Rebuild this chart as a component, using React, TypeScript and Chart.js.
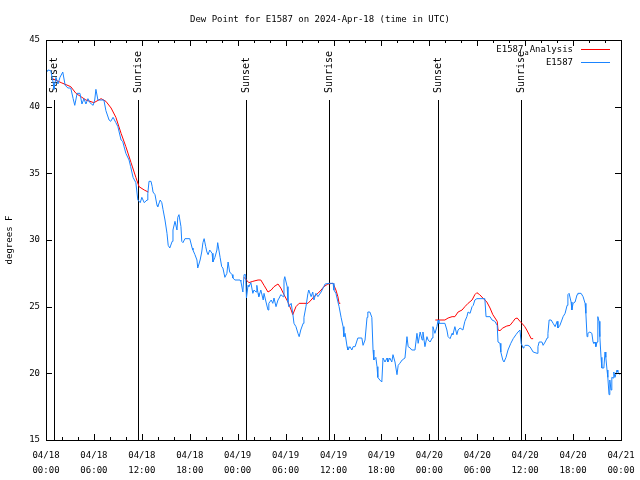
import React, { useEffect, useRef } from 'react';
import { Chart, registerables } from 'chart.js';

Chart.register(...registerables);

const TITLE = 'Dew Point for E1587 on 2024-Apr-18 (time in UTC)';
const Y_TITLE = 'degrees F';
const LEGEND_ANALYSIS = ['E1587', 'a', 'Analysis'];
const LEGEND_OBS = 'E1587';

const X_TICK_DATES = ['04/18', '04/18', '04/18', '04/18', '04/19', '04/19', '04/19', '04/19', '04/20', '04/20', '04/20', '04/20', '04/21'];
const X_TICK_TIMES = ['00:00', '06:00', '12:00', '18:00', '00:00', '06:00', '12:00', '18:00', '00:00', '06:00', '12:00', '18:00', '00:00'];
const X_MAX_HOURS = 72;
const X_STEP_HOURS = 6;
const Y_MIN = 15;
const Y_MAX = 45;
const Y_STEP = 5;

const SUN_EVENT_HOURS = [1.0, 11.5, 25.0, 35.4, 49.1, 59.5];
const SUN_EVENT_LABELS = ['Sunset', 'Sunrise', 'Sunset', 'Sunrise', 'Sunset', 'Sunrise'];

// observed series [hours since 04/18 00:00, degF]
const OBS_DAY1 = [
  [0, 42.5], [0.25, 42.75], [0.6, 42.7], [0.9, 41.8], [1.0, 41.3], [1.25, 42.2], [1.5, 41.7], [1.75, 42.2],
  [2.1, 42.6], [2.4, 41.6], [2.75, 41.4], [3.1, 41.4], [3.4, 40.6], [3.6, 40.1], [3.9, 41.0], [4.25, 41.0],
  [4.5, 40.2], [4.75, 40.6], [5.0, 40.2], [5.25, 40.6], [5.5, 40.3], [5.9, 40.1], [6.1, 40.5], [6.25, 41.3],
  [6.5, 40.5], [7.25, 40.5], [7.5, 39.7], [7.9, 39.0], [8.1, 38.9], [8.4, 39.2], [8.75, 38.8], [9.0, 38.5],
  [9.4, 37.5], [9.6, 37.4], [10.0, 36.5], [10.4, 36.0], [10.6, 35.5], [10.9, 34.7], [11.25, 34.3], [11.5, 33.0],
  [11.8, 32.8], [12.0, 33.2], [12.3, 32.8], [12.65, 33.0], [12.75, 33.5], [12.9, 34.4], [13.15, 34.4], [13.3, 34.0],
  [13.4, 33.6], [13.65, 33.4], [13.9, 32.6], [14.0, 32.5], [14.3, 33.0], [14.5, 32.8], [14.65, 32.3], [14.9, 31.5],
  [15.15, 30.5], [15.3, 29.6], [15.5, 29.4], [15.8, 29.9], [15.9, 30.75], [16.15, 31.4], [16.4, 30.75], [16.5, 31.7],
  [16.65, 31.9], [16.9, 31.0], [17.0, 29.9], [17.15, 29.8], [17.4, 30.1], [18.0, 30.1], [18.3, 29.4], [18.4, 29.25],
  [18.65, 28.9], [18.9, 28.5], [19.0, 27.9], [19.3, 28.5], [19.5, 29.1], [19.65, 29.8], [19.8, 30.1], [20.0, 29.5],
  [20.15, 29.1], [20.3, 28.9], [20.5, 29.25], [20.8, 29.0], [20.9, 28.35], [21.15, 28.7], [21.4, 29.25], [21.5, 29.8],
  [21.8, 28.7], [22.0, 28.0], [22.15, 27.9], [22.4, 27.2], [22.65, 27.5], [22.8, 28.35], [23.0, 27.6], [23.3, 27.4],
  [23.4, 27.15], [23.65, 27.0],
];
const OBS_DAY2 = [
  [24.3, 27.0], [24.4, 26.9], [24.65, 26.1], [24.8, 27.4], [25.0, 27.4], [25.1, 25.65], [25.3, 26.6], [25.4, 26.5],
  [25.65, 26.8], [25.9, 26.0], [26.05, 26.25], [26.3, 26.1], [26.4, 26.6], [26.55, 26.0], [26.65, 25.75], [26.9, 26.25],
  [27.2, 25.5], [27.3, 26.0], [27.55, 25.35], [27.8, 24.75], [27.9, 25.25], [28.2, 25.5], [28.4, 25.25], [28.55, 25.65],
  [28.8, 25.0], [29.05, 25.5], [29.2, 25.65], [29.4, 25.9], [29.7, 25.75], [29.8, 27.0], [29.9, 27.25], [30.2, 26.5],
  [30.3, 25.35], [30.4, 25.0], [30.7, 25.25], [30.9, 24.5], [31.05, 23.75], [31.3, 23.5], [31.55, 23.0], [31.7, 22.75],
  [31.9, 23.25], [32.2, 23.75], [32.3, 24.2], [32.55, 25.0], [32.8, 26.0], [32.9, 26.25], [33.2, 25.75], [33.4, 26.1],
  [33.55, 25.5], [33.8, 26.0], [34.05, 25.75], [34.45, 26.1], [34.7, 26.4], [34.95, 26.7], [35.45, 26.75], [35.95, 26.75],
  [36.05, 26.25], [36.3, 26.0], [36.7, 25.0], [36.95, 24.2], [37.2, 23.5], [37.3, 22.75], [37.45, 23.0], [37.7, 22.0],
  [37.8, 21.75], [38.05, 22.0], [38.3, 21.75], [38.45, 22.0], [38.7, 22.0], [39.05, 22.65], [39.55, 22.65], [39.7, 22.1],
  [39.95, 22.5], [40.2, 24.2], [40.3, 24.6], [40.55, 24.6], [40.8, 24.2], [40.95, 21.75], [41.05, 21.0], [41.3, 21.2],
  [41.45, 20.5], [41.55, 19.7], [41.8, 19.5], [42.05, 19.35], [42.2, 21.15], [42.45, 20.85], [42.7, 21.15], [42.8, 20.85],
  [43.05, 21.15], [43.3, 20.85], [43.45, 21.4], [43.7, 20.85], [43.95, 19.9], [44.1, 20.6], [44.3, 20.75], [44.6, 21.0],
  [44.95, 21.15], [45.2, 22.75], [45.35, 22.0], [45.6, 21.9], [45.8, 21.75], [46.2, 21.75], [46.45, 23.0], [46.6, 22.25],
  [46.85, 23.1], [47.1, 22.5], [47.2, 23.1], [47.45, 22.0], [47.7, 22.75], [47.85, 22.5],
];
const OBS_DAY3 = [
  [48.1, 22.35], [48.35, 22.65], [48.45, 23.5], [48.7, 23.0], [48.95, 23.5], [49.1, 24.0], [49.2, 23.75], [49.95, 23.75],
  [50.2, 23.25], [50.35, 22.75], [50.6, 22.6], [50.85, 23.0], [50.95, 22.9], [51.2, 23.5], [51.45, 22.9], [51.6, 23.25],
  [51.85, 23.4], [52.2, 23.25], [52.45, 23.9], [52.7, 24.25], [52.85, 24.6], [53.1, 24.5], [53.35, 25.0], [53.5, 25.1],
  [53.7, 25.5], [53.95, 25.6], [54.95, 25.6], [55.1, 24.25], [55.6, 24.25], [55.85, 24.0], [56.2, 23.9], [56.5, 23.6],
  [56.6, 22.35], [56.85, 22.25], [56.95, 21.6], [57.2, 21.0], [57.35, 20.85], [57.6, 21.2], [57.85, 21.75], [58.2, 22.25],
  [58.5, 22.6], [58.85, 22.9], [59.1, 23.1], [59.35, 23.25], [59.5, 22.25], [59.75, 21.9], [59.85, 22.0], [60.0, 22.1],
  [60.35, 22.1], [60.6, 22.0], [60.85, 21.75], [61.0, 21.6], [61.5, 21.5], [61.6, 22.0], [61.75, 22.35], [62.1, 22.35],
  [62.25, 22.1], [62.5, 22.35], [62.75, 22.65], [62.85, 23.0], [63.0, 24.0], [63.25, 24.0], [63.5, 23.75], [63.75, 23.5],
  [64.0, 23.9], [64.1, 23.4], [64.35, 23.6], [64.6, 24.0], [64.75, 24.25], [65.0, 24.5], [65.25, 25.1], [65.35, 25.9],
  [65.5, 26.0], [65.75, 25.35], [65.85, 24.75], [66.0, 25.25], [66.25, 25.35], [66.5, 25.9], [66.6, 26.0], [67.0, 26.0],
  [67.25, 25.75], [67.5, 25.25], [67.6, 24.5], [67.75, 22.75], [67.85, 23.0], [68.1, 23.1], [68.35, 23.0], [68.5, 22.35],
  [68.6, 22.25], [68.75, 22.35], [68.85, 22.0], [69.0, 22.35], [69.1, 24.25], [69.25, 23.9], [69.35, 22.75], [69.5, 21.2],
  [69.6, 20.4], [69.85, 20.4], [70.0, 21.6], [70.1, 21.2], [70.25, 20.25], [70.35, 19.7], [70.5, 18.4], [70.6, 19.5],
  [70.75, 18.75], [70.85, 19.7], [71.0, 19.65], [71.1, 20.1], [71.25, 19.7], [71.5, 20.25], [71.6, 20.1], [71.85, 19.9],
];

// analysis series [hours, degF]
const ANALYSIS_DAY1 = [
  [0.8, 42.1], [1.9, 41.8], [3.1, 41.5], [3.75, 41.0], [5.0, 40.5], [6.0, 40.3], [6.9, 40.6], [7.5, 40.4],
  [8.15, 39.9], [8.75, 39.2], [9.4, 38.0], [10.0, 37.0], [10.65, 35.8], [11.25, 34.7], [11.65, 34.0], [12.3, 33.75],
  [12.8, 33.6],
];
const ANALYSIS_DAY2 = [
  [24.8, 27.2], [25.1, 27.0], [25.4, 26.8], [25.9, 26.9], [26.55, 27.0], [26.9, 27.0], [27.3, 26.6], [27.8, 26.1],
  [28.2, 26.25], [28.55, 26.5], [29.05, 26.7], [29.4, 26.4], [29.8, 25.9], [30.3, 25.35], [30.7, 24.75], [30.9, 24.4],
  [31.3, 25.0], [31.7, 25.25], [32.3, 25.25], [32.8, 25.25], [33.2, 25.5], [33.55, 25.75], [34.05, 26.0], [34.45, 26.25],
  [34.8, 26.5], [35.3, 26.7], [35.95, 26.75], [36.3, 26.25], [36.55, 25.75], [36.7, 25.25], [36.85, 25.25],
];
const ANALYSIS_DAY3 = [
  [48.75, 24.0], [49.95, 24.0], [50.35, 24.15], [50.85, 24.25], [51.2, 24.25], [51.6, 24.6], [52.1, 24.75], [52.45, 25.0],
  [52.85, 25.25], [53.35, 25.5], [53.7, 25.9], [53.95, 26.05], [54.3, 25.9], [54.7, 25.65], [55.2, 25.35], [55.6, 24.9],
  [55.95, 24.4], [56.5, 23.9], [56.6, 23.25], [56.85, 23.2], [57.2, 23.4], [57.7, 23.55], [58.1, 23.6], [58.5, 23.9],
  [58.75, 24.1], [59.0, 24.15], [59.35, 23.9], [59.6, 23.75], [59.95, 23.5], [60.2, 23.25], [60.5, 22.9], [60.75, 22.6],
  [61.0, 22.6],
];

const FONT = "'DejaVu Sans Mono', monospace";
const RED = '#ff0000';
const BLUE = '#1a84ff';

const toPoints = (arr: number[][]) => arr.map(([x, y]) => ({ x, y }));

const decorPlugin = {
  id: 'decor',
  beforeDatasetsDraw(chart: any) {
    const { ctx, chartArea: a, scales } = chart;
    const x = scales.x;
    ctx.save();
    ctx.strokeStyle = '#000';
    ctx.lineWidth = 1;
    ctx.fillStyle = '#000';
    ctx.font = `10px ${FONT}`;
    SUN_EVENT_HOURS.forEach((h, i) => {
      const px = Math.round(x.getPixelForValue(h)) + 0.5;
      ctx.beginPath();
      ctx.moveTo(px, a.bottom);
      ctx.lineTo(px, a.top + 60);
      ctx.stroke();
      ctx.save();
      ctx.translate(px, a.top + 53);
      ctx.rotate(-Math.PI / 2);
      ctx.textAlign = 'left';
      ctx.textBaseline = 'middle';
      ctx.fillText(SUN_EVENT_LABELS[i], 0, 0);
      ctx.restore();
    });
    ctx.restore();
  },
  afterDraw(chart: any) {
    const { ctx, chartArea: a, scales } = chart;
    const x = scales.x;
    const y = scales.y;
    ctx.save();
    ctx.strokeStyle = '#000';
    ctx.lineWidth = 1;
    ctx.strokeRect(a.left + 0.5, a.top + 0.5, a.right - a.left, a.bottom - a.top);
    // x ticks (major every 6h, minor every 2h), top and bottom, inward
    for (let h = 0; h <= X_MAX_HOURS; h += 2) {
      const px = Math.round(x.getPixelForValue(h)) + 0.5;
      const len = h % X_STEP_HOURS === 0 ? 6 : 3;
      ctx.beginPath();
      ctx.moveTo(px, a.bottom);
      ctx.lineTo(px, a.bottom - len);
      ctx.moveTo(px, a.top);
      ctx.lineTo(px, a.top + len);
      ctx.stroke();
    }
    for (let v = Y_MIN; v <= Y_MAX; v += Y_STEP) {
      const py = Math.round(y.getPixelForValue(v)) + 0.5;
      ctx.beginPath();
      ctx.moveTo(a.left, py);
      ctx.lineTo(a.left + 6, py);
      ctx.moveTo(a.right, py);
      ctx.lineTo(a.right - 6, py);
      ctx.stroke();
    }
    // title
    ctx.fillStyle = '#000';
    ctx.font = `9px ${FONT}`;
    ctx.textAlign = 'center';
    ctx.textBaseline = 'middle';
    ctx.fillText(TITLE, 320, 20);
    // y title
    ctx.save();
    ctx.translate(10, (a.top + a.bottom) / 2);
    ctx.rotate(-Math.PI / 2);
    ctx.fillText(Y_TITLE, 0, 0);
    ctx.restore();
    // legend
    const tx = 573;
    ctx.textAlign = 'right';
    ctx.textBaseline = 'middle';
    ctx.font = `9px ${FONT}`;
    ctx.fillText(LEGEND_ANALYSIS[2], tx, 50);
    const w2 = ctx.measureText(LEGEND_ANALYSIS[2]).width;
    ctx.font = `7px ${FONT}`;
    ctx.fillText(LEGEND_ANALYSIS[1], tx - w2 - 1, 53);
    const w1 = ctx.measureText(LEGEND_ANALYSIS[1]).width;
    ctx.font = `9px ${FONT}`;
    ctx.fillText(LEGEND_ANALYSIS[0], tx - w2 - w1 - 2, 50);
    ctx.fillText(LEGEND_OBS, tx, 63);
    ctx.strokeStyle = RED;
    ctx.beginPath();
    ctx.moveTo(581, 49.5);
    ctx.lineTo(610, 49.5);
    ctx.stroke();
    ctx.strokeStyle = BLUE;
    ctx.beginPath();
    ctx.moveTo(581, 62.5);
    ctx.lineTo(610, 62.5);
    ctx.stroke();
    ctx.restore();
  },
};

export default function App() {
  const ref = useRef<HTMLCanvasElement>(null);
  useEffect(() => {
    if (!ref.current) return;
    const analysis = [
      ...toPoints(ANALYSIS_DAY1),
      { x: 18, y: null },
      ...toPoints(ANALYSIS_DAY2),
      { x: 42, y: null },
      ...toPoints(ANALYSIS_DAY3),
    ];
    const obs = [...toPoints(OBS_DAY1), ...toPoints(OBS_DAY2), ...toPoints(OBS_DAY3)];
    const chart = new Chart(ref.current, {
      type: 'line',
      data: {
        datasets: [
          {
            label: LEGEND_OBS,
            data: obs as any,
            borderColor: BLUE,
            borderWidth: 1,
            pointRadius: 0,
            tension: 0,
            order: 0,
          },
          {
            label: LEGEND_ANALYSIS.join(''),
            data: analysis as any,
            borderColor: RED,
            borderWidth: 1,
            pointRadius: 0,
            tension: 0,
            spanGaps: false,
            order: 1,
          },
        ],
      },
      options: {
        animation: false,
        responsive: false,
        events: [],
        layout: { padding: { top: 40, right: 19, left: 0, bottom: 0 } },
        plugins: { legend: { display: false }, tooltip: { enabled: false }, title: { display: false } },
        scales: {
          x: {
            type: 'linear',
            min: 0,
            max: X_MAX_HOURS,
            grid: { display: false, drawTicks: false },
            border: { display: false },
            afterFit: (s: any) => {
              s.height = 40;
              s.paddingLeft = 0;
              s.paddingRight = 0;
            },
            ticks: {
              stepSize: X_STEP_HOURS,
              autoSkip: false,
              maxRotation: 0,
              padding: 8,
              color: '#000',
              font: { family: FONT, size: 9, lineHeight: 1.65 },
              callback: (v: any) => {
                const i = Math.round(Number(v) / X_STEP_HOURS);
                return [X_TICK_DATES[i], X_TICK_TIMES[i]];
              },
            },
          },
          y: {
            type: 'linear',
            min: Y_MIN,
            max: Y_MAX,
            grid: { display: false, drawTicks: false },
            border: { display: false },
            afterFit: (s: any) => {
              s.width = 46;
              s.paddingTop = 0;
              s.paddingBottom = 0;
            },
            ticks: {
              stepSize: Y_STEP,
              padding: 6,
              color: '#000',
              font: { family: FONT, size: 9 },
            },
          },
        },
      },
      plugins: [decorPlugin],
    });
    return () => chart.destroy();
  }, []);
  return (
    <div style={{ position: 'fixed', left: 0, top: 0, width: 640, height: 480, background: '#fff' }}>
      <canvas ref={ref} width={640} height={480} style={{ width: 640, height: 480 }} />
    </div>
  );
}
